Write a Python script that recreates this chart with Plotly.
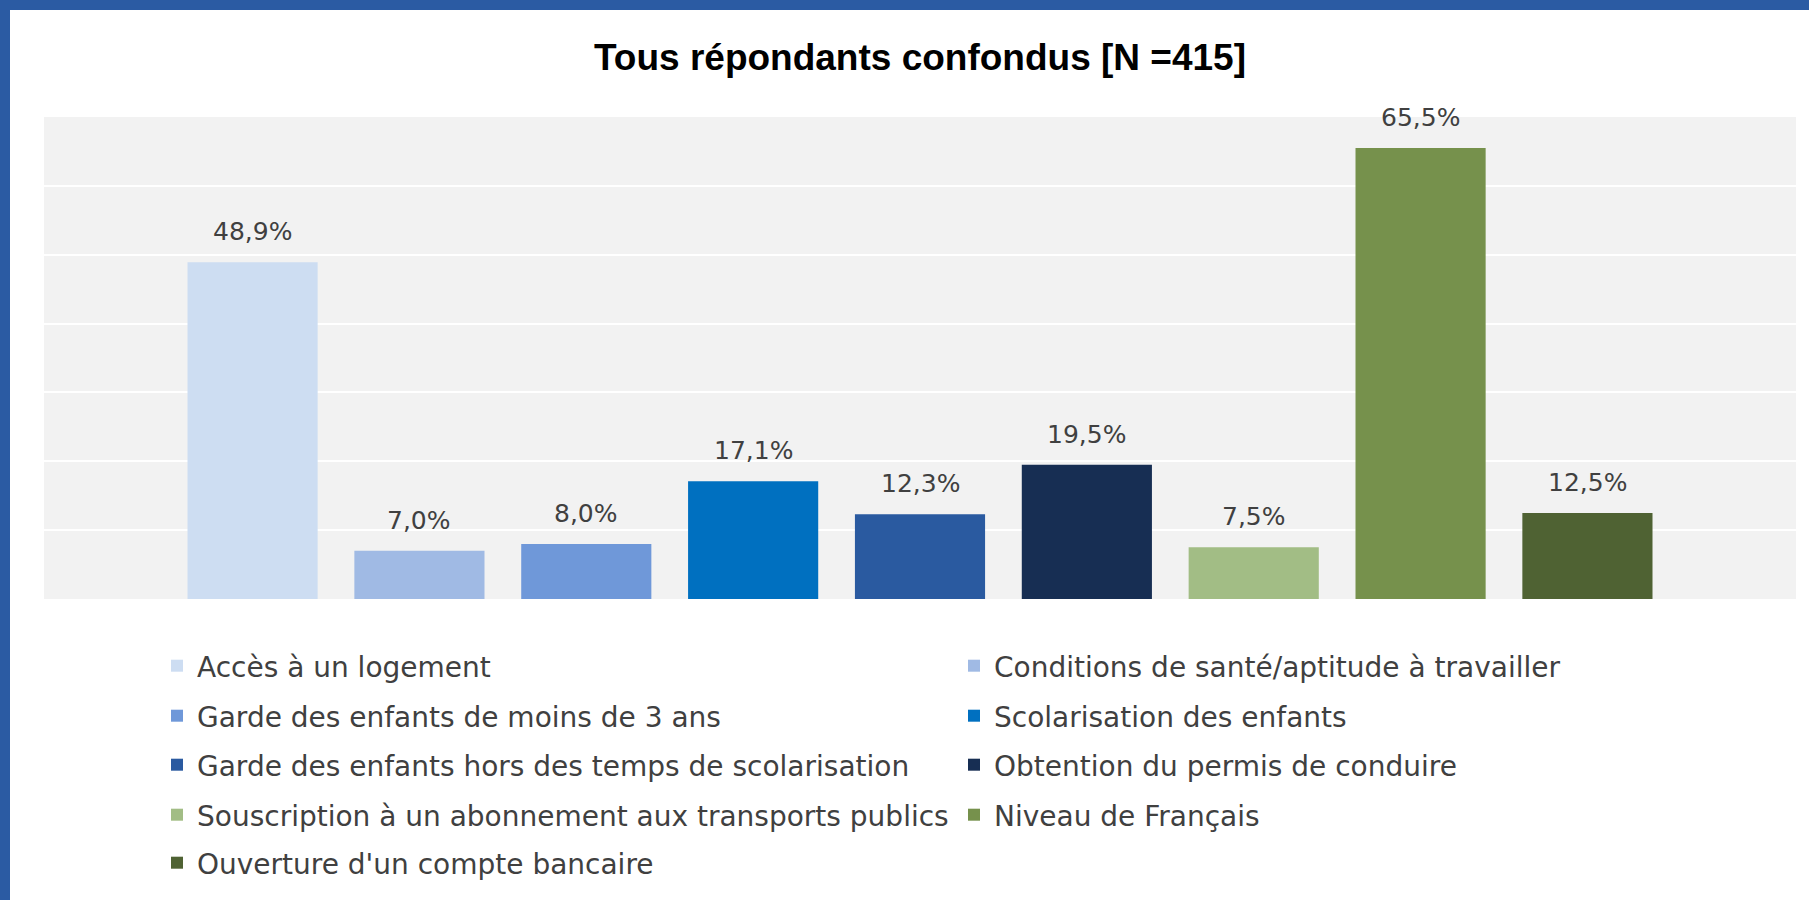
import plotly.graph_objects as go

categories = [
    "Accès à un logement",
    "Conditions de santé/aptitude à travailler",
    "Garde des enfants de moins de 3 ans",
    "Scolarisation des enfants",
    "Garde des enfants hors des temps de scolarisation",
    "Obtention du permis de conduire",
    "Souscription à un abonnement aux transports publics",
    "Niveau de Français",
    "Ouverture d'un compte bancaire",
]
values = [48.9, 7.0, 8.0, 17.1, 12.3, 19.5, 7.5, 65.5, 12.5]
colors = ["#CDDDF2", "#A0BAE4", "#6F98D9", "#0070C0", "#2A5AA0",
          "#172E53", "#A2BD85", "#76914C", "#4F6233"]
legend_rows = [1, 1, 2, 2, 3, 3, 4, 4, 5]
title_text = "Tous répondants confondus [N =415]"

W, H = 1809, 900
ML, MR, MT, MB = 44, 13, 117, 301
PW = W - ML - MR
PH = H - MT - MB

def py(p):  # pixel from top -> paper y
    return (H - MB - p) / PH

def px(p):  # pixel from left -> paper x
    return (p - ML) / PW

fig = go.Figure()
for cat, v, c, row in zip(categories, values, colors, legend_rows):
    fig.add_trace(go.Bar(
        x=[cat], y=[v], name=cat, marker=dict(color=c, line=dict(width=0)),
        width=0.78, legend="legend" if row == 1 else f"legend{row}",
        hoverinfo="skip",
    ))
    fig.add_annotation(
        x=cat, y=v, text=f"{v:.1f}".replace(".", ",") + "%",
        showarrow=False, yanchor="bottom", yshift=14,
        font=dict(family="DejaVu Sans", size=25, color="#404040"),
    )

row_centers = [666, 716, 765, 815, 863]
legend_common = dict(
    orientation="h", xanchor="left", yanchor="middle",
    x=px(157), entrywidth=752, entrywidthmode="pixels",
    font=dict(family="DejaVu Sans", size=28, color="#404040"),
    bgcolor="rgba(0,0,0,0)", borderwidth=0, traceorder="normal",
)
layout_legends = {}
for i, yc in enumerate(row_centers, start=1):
    key = "legend" if i == 1 else f"legend{i}"
    layout_legends[key] = dict(legend_common, y=py(yc))

fig.update_layout(
    width=W, height=H, autosize=False,
    margin=dict(l=ML, r=MR, t=MT, b=MB, autoexpand=False),
    paper_bgcolor="white", plot_bgcolor="#F2F2F2",
    barmode="overlay", showlegend=True, hovermode=False,
    title=dict(text=title_text, x=0.5, xref="paper", xanchor="center",
               y=1 - 57 / H, yref="container", yanchor="middle",
               font=dict(family="Liberation Sans", size=37, color="#000000", weight="bold")),
    xaxis=dict(type="category", categoryorder="array", categoryarray=categories,
               range=[-1.25, 9.25], showticklabels=False, showgrid=False,
               zeroline=False, showline=False, ticks=""),
    yaxis=dict(range=[0, 70], dtick=10, showticklabels=False, showgrid=True,
               gridcolor="white", gridwidth=2, zeroline=False, showline=False, ticks=""),
    **layout_legends,
)

border = "#2B5BA3"
fig.add_shape(type="rect", xref="paper", yref="paper",
              x0=px(0), x1=px(W), y0=py(10), y1=py(0),
              fillcolor=border, line=dict(width=0), layer="above")
fig.add_shape(type="rect", xref="paper", yref="paper",
              x0=px(0), x1=px(10), y0=py(H), y1=py(0),
              fillcolor=border, line=dict(width=0), layer="above")

fig.write_html(
    "out.html",
    config={"displayModeBar": False},
    post_script="document.body.style.margin='0';document.body.style.overflow='hidden';",
)
